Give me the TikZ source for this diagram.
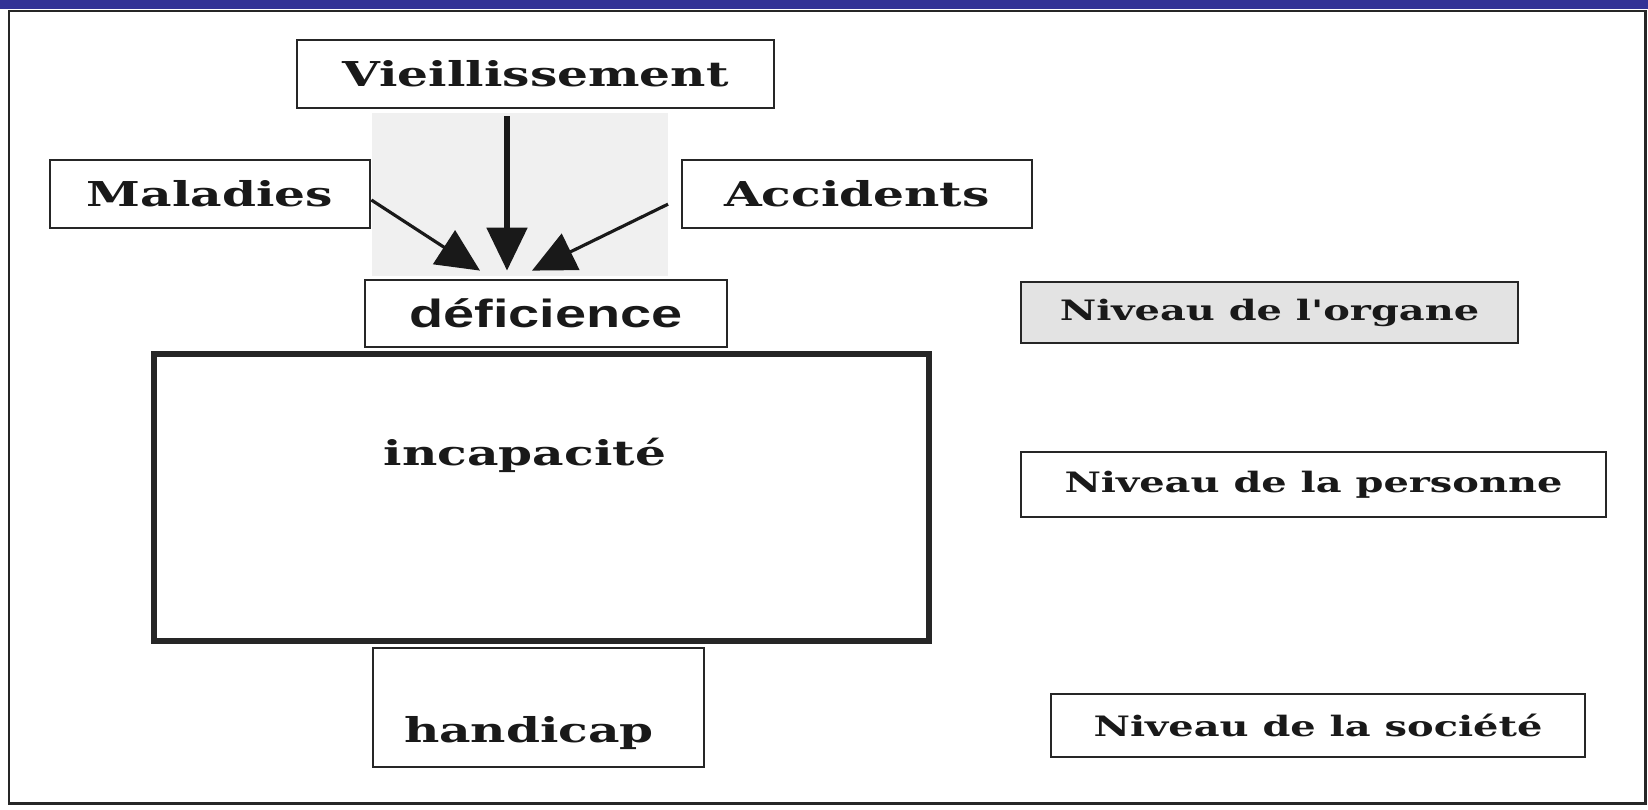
\documentclass[tikz,border=0pt]{standalone}
\usepackage{fontspec}
\usepackage{tikz}
\usetikzlibrary{arrows.meta}
\definecolor{bar}{RGB}{50,50,150}
\definecolor{lg}{gray}{0.94}
\definecolor{og}{gray}{0.89}
\definecolor{ln}{gray}{0.15}
\definecolor{tx}{gray}{0.1}
\newfontfamily\lblfont{DejaVu Serif}[FakeStretch=1.42]
\newfontfamily\deffont{Liberation Sans}[FakeStretch=1.42]
\tikzset{
box/.style={draw=ln, line width=1.6pt, inner sep=0pt, text=tx, font=\lblfont\bfseries\fontsize{19.5}{22}\selectfont},
lvl/.style={box, font=\lblfont\bfseries\fontsize{16}{18}\selectfont},
arr/.style={-{Triangle[length=8.6mm,width=8mm]}, line width=1.8pt, tx}
}

\begin{document}
\begin{tikzpicture}[x=0.02cm,y=-0.02cm]
\useasboundingbox (0,0) rectangle (1648,809);
\fill[white] (0,0) rectangle (1648,809);
\fill[bar] (0,0) rectangle (1648,9);
\draw[ln, line width=1.7pt] (9,11) rectangle (1645,803);
\fill[lg] (372,113) rectangle (668,276);
\node[box, minimum width=9.54cm, minimum height=1.36cm] (viei) at (535.5,74) {Vieillissement};
\node[box, minimum width=6.4cm, minimum height=1.36cm] (mal) at (210,194) {Maladies};
\node[box, minimum width=7cm, minimum height=1.36cm] (acc) at (857,194) {Accidents};
\node[box, fill=white, minimum width=7.24cm, minimum height=1.34cm, font=\deffont\bfseries\fontsize{22.4}{26}\selectfont] (def) at (546,313.5) {déficience};
\node[box, line width=3pt, minimum width=15.5cm, minimum height=5.74cm] (incap) at (541.5,497.5) {};
\node[box, draw=none] (incapt) at (525,455) {incapacité};
\node[box, minimum width=6.62cm, minimum height=2.38cm] (hand) at (538.5,707.5) {};
\node[box, draw=none] (handt) at (529,733) {handicap};
\node[lvl, fill=og, minimum width=9.94cm, minimum height=1.22cm] (org) at (1269.5,312.5) {Niveau de l'organe};
\node[lvl, minimum width=11.7cm, minimum height=1.3cm] (pers) at (1313.5,484.5) {Niveau de la personne};
\node[lvl, minimum width=10.68cm, minimum height=1.26cm] (soc) at (1318,725.5) {Niveau de la société};
\coordinate (tipl) at ([xshift=-1.32cm,yshift=0.16cm]def.north);
\coordinate (tipm) at ([xshift=-0.78cm,yshift=0.16cm]def.north);
\coordinate (tipr) at ([xshift=-0.28cm,yshift=0.16cm]def.north);
\draw[arr] ([yshift=-0.12cm]mal.east) -- (tipl);
\draw[arr, line width=3pt, shorten <=0.14cm] (viei.south -| tipm) -- (tipm);
\draw[arr, shorten <=0.28cm] ([yshift=-0.08cm]acc.west) -- (tipr);
\end{tikzpicture}
\end{document}
